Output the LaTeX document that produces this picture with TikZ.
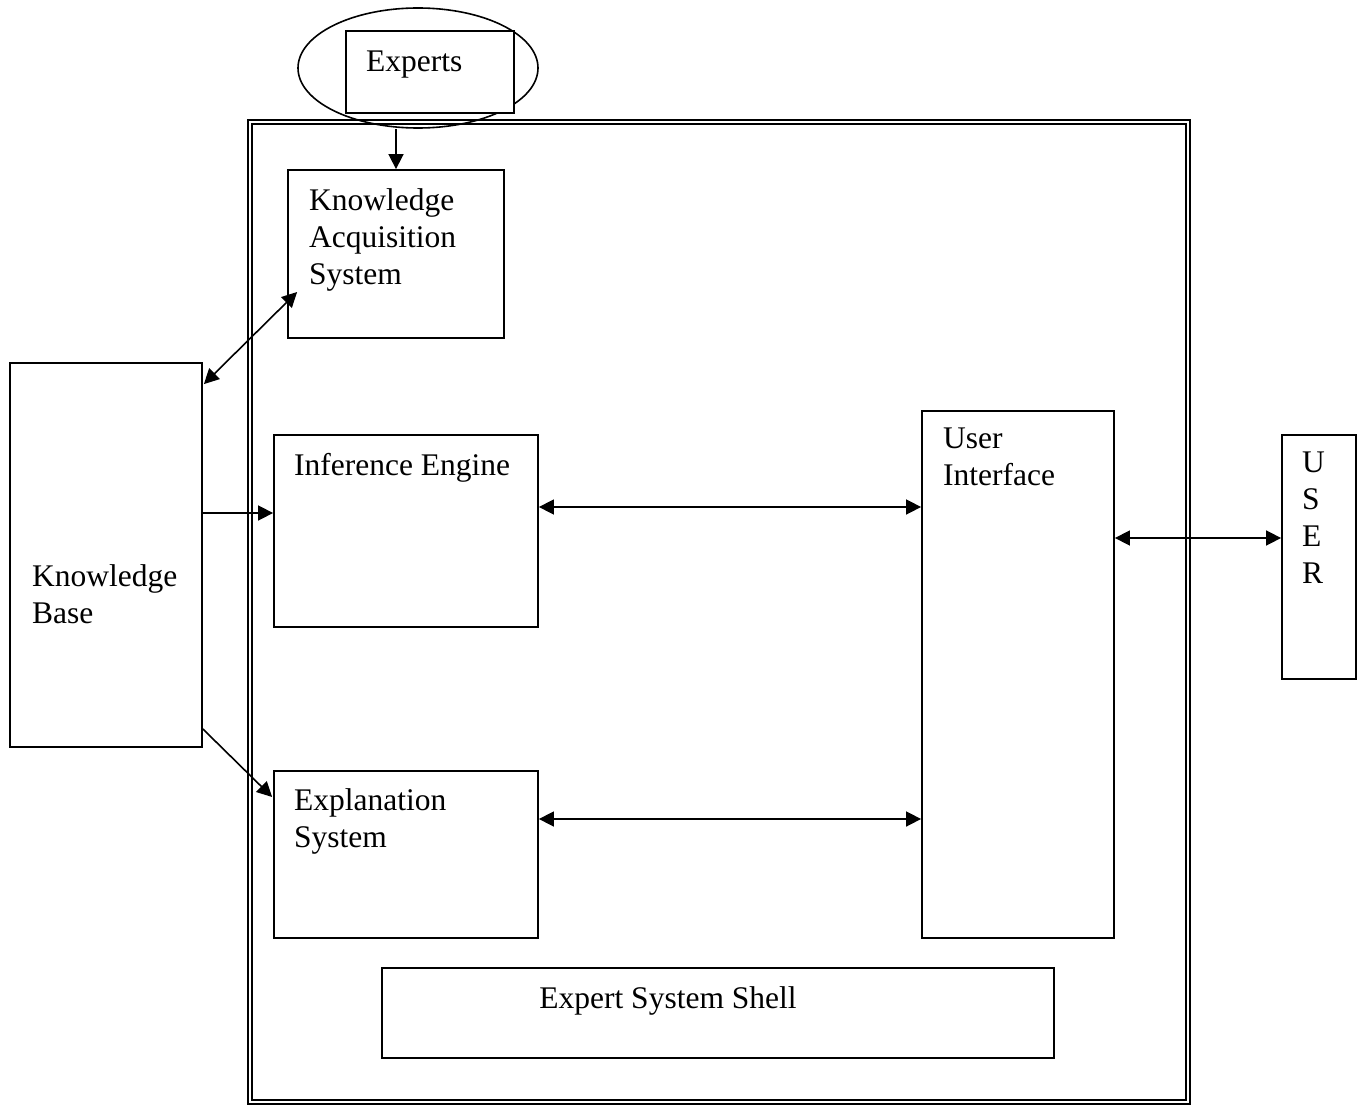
\documentclass[tikz,border=0pt]{standalone}
\usepackage{fontspec}
\setmainfont{Liberation Serif}
\usetikzlibrary{arrows.meta,calc,shapes.geometric}
\begin{document}
\begin{tikzpicture}[x=1pt,y=-1pt,
  box/.style={draw,line width=1.8pt,rectangle,inner sep=0pt},
  frame/.style={draw,line width=1.8pt,rectangle,inner sep=0pt},
  txt/.style={anchor=north west,inner sep=0pt,align=left,
    font=\fontsize{31.5}{37}\selectfont},
  tip/.style={Triangle[length=15pt,width=15pt]},
  link/.style={line width=1.6pt,-{Triangle[length=15pt,width=15pt]}},
  blink/.style={line width=1.6pt,{Triangle[length=15pt,width=15pt]}-{Triangle[length=15pt,width=15pt]}}]
\useasboundingbox (0,0) rectangle (1358,1105);

% double outline of the shell
\node[frame,minimum width=942,minimum height=984] (outer) at (719,612) {};
\node[frame,minimum width=934,minimum height=976] (inner) at (719,612) {};

% experts source
\node[draw,line width=1.6pt,ellipse,minimum width=240,minimum height=120,inner sep=0pt] (ell) at (418,68) {};
\node[box,fill=white,minimum width=168,minimum height=82] (exp) at (430,72) {};
\node[txt] (expt) at (366,50.5) {Experts};

% components
\node[box,minimum width=216,minimum height=168] (kas) at (396,254) {};
\node[txt] (kast) at (309,188.5) {Knowledge\\Acquisition\\System};

\node[box,minimum width=192,minimum height=384] (kb) at (106,555) {};
\node[txt] (kbt) at (32,564.5) {Knowledge\\Base};

\node[box,minimum width=264,minimum height=192] (ie) at (406,531) {};
\node[txt] (iet) at (294,453.5) {Inference Engine};

\node[box,minimum width=264,minimum height=167] (es) at (406,854.5) {};
\node[txt] (est) at (294,788.5) {Explanation\\System};

\node[box,minimum width=192,minimum height=527] (ui) at (1018,674.5) {};
\node[txt] (uit) at (943,428) {User\\Interface};

\node[box,minimum width=74,minimum height=244] (user) at (1319,557) {};
\node[txt] (usert) at (1302,452) {U\\S\\E\\R};

\node[box,minimum width=672,minimum height=90] (shell) at (718,1013) {};
\node[anchor=base,inner sep=0pt,font=\fontsize{31.5}{37}\selectfont] (shellt) at (668,1008) {Expert System Shell};

% connectors
\draw[link] (kas.north |- ell.south) -- (kas.north);
\draw[blink] ($(kb.north east)+(1,22)$) -- ($(kas.west)+(10,38)$);
\draw[link] ($(kb.east)+(0,-42)$) coordinate (k1) -- (k1 -| ie.west);
\draw[link] ($(kb.east)+(0,174)$) -- ($(es.west)+(-1,-57.5)$);
\draw[blink] ($(ie.east)+(0,-24)$) coordinate (i1) -- (i1 -| ui.west);
\draw[blink] ($(es.east)+(0,-35.5)$) coordinate (e1) -- (e1 -| ui.west);
\draw[blink] ($(user.west)+(0,-19)$) coordinate (u1) -- (u1 -| ui.east);
\end{tikzpicture}
\end{document}
